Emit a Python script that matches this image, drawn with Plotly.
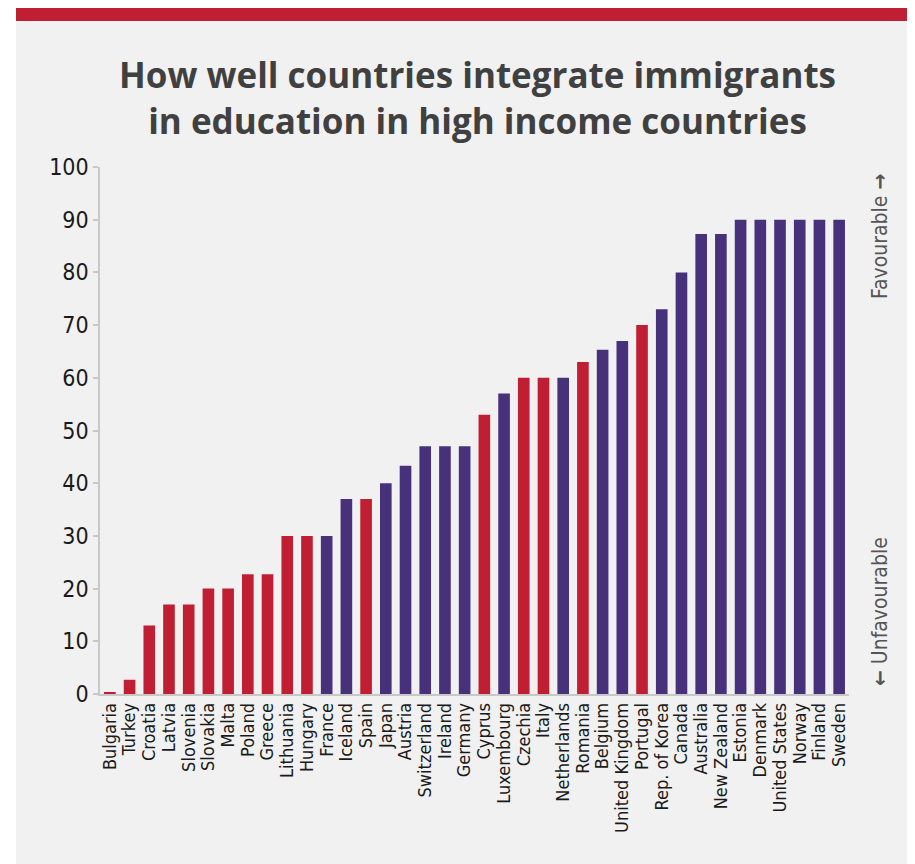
import plotly.graph_objects as go

countries = ["Bulgaria", "Turkey", "Croatia", "Latvia", "Slovenia", "Slovakia", "Malta",
             "Poland", "Greece", "Lithuania", "Hungary", "France", "Iceland", "Spain",
             "Japan", "Austria", "Switzerland", "Ireland", "Germany", "Cyprus",
             "Luxembourg", "Czechia", "Italy", "Netherlands", "Romania", "Belgium",
             "United Kingdom", "Portugal", "Rep. of Korea", "Canada", "Australia",
             "New Zealand", "Estonia", "Denmark", "United States", "Norway", "Finland",
             "Sweden"]
scores = [0.3, 2.7, 13, 17, 17, 20, 20, 22.7, 22.7, 30, 30, 30, 37, 37, 40, 43.3, 47, 47,
          47, 53, 57, 60, 60, 60, 63, 65.3, 67, 70, 73, 80, 87.3, 87.3, 90, 90, 90, 90, 90, 90]
group = ["red", "red", "red", "red", "red", "red", "red", "red", "red", "red", "red",
         "blue", "blue", "red", "blue", "blue", "blue", "blue", "blue", "red", "blue",
         "red", "red", "blue", "red", "blue", "blue", "red", "blue", "blue", "blue",
         "blue", "blue", "blue", "blue", "blue", "blue", "blue"]
y_ticks = [0, 10, 20, 30, 40, 50, 60, 70, 80, 90, 100]

RED = "#c01f33"
PURPLE = "#47317a"
BG = "#f1f1f1"
palette = {"red": RED, "blue": PURPLE}
COND = "DejaVu Sans Condensed, DejaVu Sans, sans-serif"

fig = go.Figure(go.Bar(
    x=countries, y=scores,
    marker=dict(color=[palette[g] for g in group], line=dict(width=0)),
    hoverinfo="x+y",
))

# page has an 8px body margin: figure coordinates = reference pixel - 8
OFF = 8
W, H = 915 - OFF, 864 - OFF
L, R, T, B = 100 - OFF, W - (849 - OFF), 167 - OFF, H - (694 - OFF)
pw, ph = W - L - R, H - T - B

def px(xpix):
    return (xpix - OFF - L) / pw

def py(ypix):
    return (H - B - (ypix - OFF)) / ph

fig.update_layout(
    width=W, height=H,
    margin=dict(l=L, r=R, t=T, b=B, autoexpand=False),
    paper_bgcolor="white",
    plot_bgcolor=BG,
    bargap=0.41,
    showlegend=False,
    shapes=[
        dict(type="rect", xref="paper", yref="paper", layer="below",
             x0=px(16), x1=px(930), y0=py(880), y1=py(21),
             fillcolor=BG, line=dict(width=0)),
        dict(type="rect", xref="paper", yref="paper", layer="below",
             x0=px(16), x1=px(930), y0=py(21), y1=py(0),
             fillcolor=RED, line=dict(width=0)),
    ],
    annotations=[
        dict(text="How well countries integrate immigrants<br>in education in high income countries",
             xref="paper", yref="paper", x=px(478), y=py(97), xanchor="center", yanchor="middle",
             showarrow=False, align="center",
             font=dict(family="Open Sans", size=35, color="#404040", weight="bold")),
        dict(text="Favourable <b>\u2192</b>", textangle=-90, xref="paper", yref="paper",
             x=px(880), y=py(237), xanchor="center", yanchor="middle", showarrow=False,
             font=dict(family=COND, size=21, color="#555555")),
        dict(text="<b>\u2190</b> Unfavourable", textangle=-90, xref="paper", yref="paper",
             x=px(880), y=py(612), xanchor="center", yanchor="middle", showarrow=False,
             font=dict(family=COND, size=21, color="#555555")),
    ],
    xaxis=dict(
        tickangle=-90, showgrid=False, zeroline=False,
        tickmode="array", tickvals=countries, ticktext=countries,
        showline=True, linecolor="#c8c8c8", linewidth=1.5,
        ticks="", tickfont=dict(family=COND, size=18, color="#1a1a1a"),
        range=[-0.5, len(countries) - 0.5], fixedrange=True,
    ),
    yaxis=dict(
        range=[0, 100], tickvals=y_ticks, showgrid=False, zeroline=False,
        showline=True, linecolor="#c8c8c8", linewidth=1.5,
        ticks="outside", ticklen=5, tickcolor="#c8c8c8", tickwidth=1.5,
        tickfont=dict(family=COND, size=23, color="#1a1a1a"),
        fixedrange=True,
    ),
)

fig.write_html("out.html")
